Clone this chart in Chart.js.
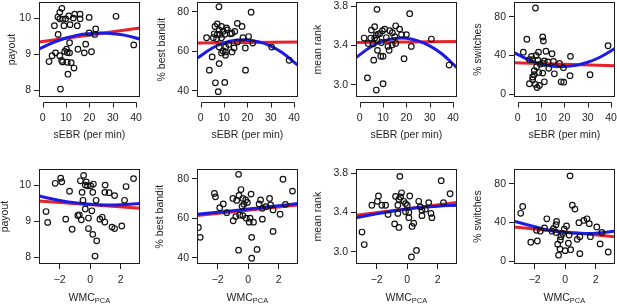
<!DOCTYPE html>
<html>
<head>
<meta charset="utf-8">
<script src="https://cdn.jsdelivr.net/npm/chart.js@4.4.1/dist/chart.umd.min.js"></script>
<style>
  html, body { margin: 0; padding: 0; background: #fff; overflow: hidden; }
  body { width: 617px; height: 305px; position: relative; }
  canvas { position: absolute; }
</style>
</head>
<body>
<script>
// ---- data ----
// top row: sEBR (per min) on x
const ebrX1 = [8.2, 7.3, 6.5, 7.3, 8.5, 9.8, 11.2, 13.7, 16.0, 13.1, 16.0, 19.9, 31.4, 5.0, 9.1, 11.7, 14.8, 6.6, 22.7, 19.9, 22.3, 11.5, 18.4, 39.0, 10.2, 15.1, 9.4, 10.5, 11.5, 20.9, 17.8, 5.5, 4.0, 7.3, 8.1, 8.5, 2.7, 10.5, 12.2, 13.4, 10.8, 7.6];
const payoutY1 = [10.27, 10.16, 10.03, 9.98, 9.97, 9.98, 10.06, 10.11, 10.11, 10.0, 9.98, 10.02, 10.05, 9.79, 9.79, 9.82, 9.79, 9.55, 9.7, 9.59, 9.55, 9.32, 9.28, 9.26, 9.14, 9.14, 9.08, 9.05, 9.04, 9.07, 9.04, 9.04, 8.96, 8.96, 8.83, 8.79, 8.8, 8.78, 8.77, 8.62, 8.45, 8.04];

const ebrX2 = [7.8, 21.6, 2.5, 7.1, 6.1, 8.9, 11.0, 11.4, 7.9, 9.6, 5.8, 7.1, 8.2, 10.3, 12.7, 13.4, 14.6, 15.7, 17.7, 5.4, 6.8, 8.9, 18.1, 20.5, 15.7, 12.0, 7.9, 10.7, 14.3, 19.1, 22.3, 30.4, 9.6, 10.6, 8.9, 13.4, 10.6, 4.9, 7.9, 3.7, 19.2, 37.9, 6.3, 10.3, 7.5];
const banditY2 = [82.5, 79.7, 66.8, 73.8, 72.5, 72.5, 71.8, 70.8, 70.8, 70.1, 68.8, 68.5, 68.5, 68.5, 68.8, 69.1, 70.0, 74.1, 72.5, 66.8, 66.3, 66.8, 66.8, 67.4, 64.6, 63.4, 62.1, 62.1, 61.6, 61.6, 64.1, 62.1, 60.1, 59.6, 59.1, 59.6, 57.9, 57.1, 53.7, 50.4, 50.4, 55.4, 44.0, 44.2, 39.5];

const ebrX3 = [7.4, 21.4, 15.4, 6.4, 17.1, 10.7, 5.0, 9.7, 12.9, 14.0, 8.6, 7.9, 7.1, 20.0, 1.9, 4.7, 6.4, 11.4, 15.0, 17.9, 3.6, 7.4, 5.7, 9.3, 12.1, 13.9, 15.4, 22.1, 30.7, 7.6, 12.6, 9.0, 10.0, 19.0, 6.0, 38.3, 3.3, 10.0, 7.1];
const rankY3 = [3.767, 3.723, 3.6, 3.59, 3.566, 3.566, 3.556, 3.55, 3.55, 3.53, 3.52, 3.515, 3.505, 3.51, 3.475, 3.475, 3.475, 3.48, 3.49, 3.51, 3.42, 3.455, 3.415, 3.43, 3.39, 3.405, 3.42, 3.39, 3.465, 3.35, 3.35, 3.29, 3.29, 3.265, 3.25, 3.2, 3.07, 3.01, 2.946];

const ebrX4 = [7.6, 3.9, 10.7, 11.0, 12.1, 2.4, 8.9, 14.7, 5.9, 7.9, 22.6, 38.7, 5.0, 6.4, 8.6, 11.4, 12.9, 15.3, 9.6, 11.0, 17.9, 8.1, 13.3, 19.6, 7.1, 9.0, 10.7, 7.1, 15.7, 6.4, 22.4, 31.0, 6.4, 11.4, 18.6, 19.7, 5.0, 7.6, 9.3, 8.3];
const switchY4 = [89, 56.7, 59, 55, 44.3, 43.3, 43.3, 41.7, 39, 40, 39, 50, 35.7, 35.7, 35, 34.3, 33.3, 33.7, 31, 31.7, 31.7, 28.3, 26.7, 27.3, 24.3, 22.3, 21.7, 20, 21, 17.7, 19, 20, 15, 12.7, 12.7, 12.3, 10.7, 10, 9, 6.7];

// bottom row: WMC_PCA on x
const wmcX5 = [-0.43, -1.93, -1.86, -2.29, -0.64, -0.26, -0.32, -0.17, 0.04, 0.21, 0.98, 2.84, 2.35, -1.35, -0.53, 0.17, 0.96, 1.24, 1.6, -0.47, 0.39, 2.25, -0.32, 0.11, -2.89, -0.71, -0.81, -2.78, -1.6, -0.58, -0.11, 0.64, 0.79, 0.96, -1.18, -0.11, 1.43, 1.6, 2.07, 0.17, 0.43, 0.32];
const payoutY5 = [10.27, 10.19, 10.09, 10.05, 10.12, 10.09, 10.0, 9.98, 9.98, 10.03, 10.0, 10.18, 9.96, 9.83, 9.8, 9.8, 9.8, 9.79, 9.71, 9.58, 9.58, 9.58, 9.34, 9.29, 9.27, 9.18, 9.16, 8.97, 9.06, 9.04, 9.09, 9.06, 9.11, 8.98, 8.78, 8.8, 8.84, 8.8, 8.87, 8.64, 8.46, 8.04];

const wmcX6 = [-0.63, 2.28, 2.9, -2.21, -2.14, -0.47, -1.63, -1.86, -1.0, 0.19, -0.35, -0.16, -0.05, -0.28, 0.81, 0.72, 1.4, 1.47, 1.16, 1.63, 2.44, 0.93, -1.4, -0.81, -0.98, -0.35, -0.12, 0.12, 0.07, 0.35, 0.93, 2.09, -3.26, -3.14, 0.23, 1.63, -0.63, 0.58, 0.23, -0.6, -0.75, -0.4, -0.55];
const banditY6 = [82.2, 79.7, 73.7, 72.5, 70.8, 74.5, 67.2, 65.3, 70.0, 72.2, 70.0, 69.2, 68.0, 67.0, 69.2, 67.2, 70.0, 66.7, 65.8, 64.2, 67.0, 65.0, 62.8, 60.8, 58.7, 61.3, 60.0, 60.0, 58.0, 58.0, 59.5, 62.0, 55.3, 50.3, 50.3, 53.3, 43.8, 44.2, 39.7, 71.5, 69.0, 66.0, 61.5];

const wmcX7 = [-0.48, 2.23, 2.81, -0.37, -1.88, 0.17, -0.76, -0.43, -0.54, -1.95, -1.66, -1.41, -2.31, -0.22, -0.11, 0.0, 0.76, 1.41, 2.38, -0.61, 0.86, 1.19, 0.97, -1.25, -0.61, -0.11, 0.11, 0.97, 1.56, 1.62, 0.11, -0.82, -0.54, 0.43, 0.32, -2.96, -2.81, 0.61, 0.28];
const rankY7 = [3.767, 3.723, 3.59, 3.6, 3.567, 3.567, 3.563, 3.557, 3.533, 3.513, 3.473, 3.473, 3.473, 3.513, 3.49, 3.473, 3.513, 3.5, 3.5, 3.473, 3.457, 3.433, 3.423, 3.38, 3.39, 3.407, 3.4, 3.367, 3.39, 3.347, 3.347, 3.283, 3.247, 3.29, 3.257, 3.2, 3.073, 3.013, 2.947];

const wmcX8 = [0.32, -2.78, -2.91, 0.47, 0.64, -1.2, 1.43, -0.56, 1.22, 0.9, 1.58, -0.6, 0.09, -1.35, -0.77, 2.07, -0.86, -0.06, -1.88, -1.63, -0.6, -0.17, 2.4, -0.28, 0.26, 0.96, 1.65, 0.79, -2.25, -1.82, -0.32, -0.49, 0.21, 2.29, -0.34, 0.0, 0.36, 0.96, -0.43, 2.82];
const switchY8 = [88.1, 56.5, 49.4, 57.8, 53.8, 43.7, 43.7, 41, 42, 39.7, 38.7, 37.6, 36.3, 34.3, 33.6, 35.3, 30.9, 32.9, 31.9, 30.9, 29.6, 28.6, 29.6, 25.2, 26.9, 25.2, 25.2, 22.5, 19.5, 20.8, 21.8, 17.5, 18.5, 17.8, 12.4, 10.8, 11.8, 7.7, 6.1, 9.4];

// fitted curves, read at a few x positions
const ebrFitX = [-1.6, 5, 10, 15, 20, 25, 30, 35, 41.6];
const ebrLineX = [-1.6, 41.6];
const quadY1 = [9.15, 9.34, 9.45, 9.53, 9.57, 9.59, 9.57, 9.53, 9.42];
const quadY2 = [56.4, 61.6, 64.2, 65.5, 65.7, 64.7, 62.6, 59.2, 52.9];
const quadY3 = [3.277, 3.389, 3.443, 3.471, 3.472, 3.447, 3.396, 3.318, 3.175];
const quadY4 = [43.0, 35.0, 31.0, 28.8, 28.4, 29.7, 32.9, 37.8, 47.0];
const linY1 = [9.34, 9.73];
const linY2 = [64.1, 64.6];
const linY3 = [3.43, 3.44];
const linY4 = [32.3, 29.3];

const wmcFitX = [-3.35, -2, -1, 0, 1, 2, 3.25];
const wmcLineX = [-3.35, 3.25];
const quadY5 = [9.70, 9.575, 9.51, 9.47, 9.45, 9.456, 9.495];
const quadY6 = [62.0, 63.0, 63.8, 64.6, 65.5, 66.3, 67.4];
const quadY7 = [3.345, 3.385, 3.412, 3.435, 3.452, 3.464, 3.473];
const quadY8 = [41.2, 35.6, 31.7, 29.6, 28.7, 28.9, 30.9];
const linY5 = [9.56, 9.36];
const linY6 = [61.3, 66.7];
const linY7 = [3.37, 3.50];
const linY8 = [35.3, 25.2];

// axis ticks and labels
const ebrTicks = [0, 10, 20, 30, 40];
const wmcTicks = [-2, 0, 2];
const payoutTicks = [8, 9, 10];
const banditTicks = [40, 60, 80];
const rankTicks = [3.0, 3.4, 3.8];
const switchTicks = [0, 40, 80];

// ---- layout ----
const INK = '#1e1e1e';
const FONT = 'Liberation Sans, Arial, Helvetica, sans-serif';
const boxLefts = [39, 197, 356, 514];
const rowTops = [1, 168];
const BOX_W = 102, BOX_H = 96;
const ML = 46, MT = 4, MR = 4, MB = 46;
const TICK = 5;

const pairs = (xs, ys) => xs.map((x, i) => ({ x, y: ys[i] }));
const fmt = v => (v < 0 ? '\u2212' + Math.abs(v) : String(v));

// box, detached x axis (top row) and axis titles, R style
const framePlugin = {
  id: 'frame',
  afterDraw(chart, args, o) {
    const { ctx, chartArea: a } = chart;
    ctx.save();
    ctx.strokeStyle = INK;
    ctx.lineWidth = 1;
    ctx.strokeRect(Math.round(a.left) + 0.5, Math.round(a.top) + 0.5, Math.round(a.width) - 1, Math.round(a.height) - 1);

    if (o.axisGap) {
      const xs = chart.scales.x;
      const y0 = Math.round(a.bottom) + o.axisGap + 0.5;
      const px = o.ticks.map(v => Math.round(xs.getPixelForValue(v)) + 0.5);
      ctx.beginPath();
      ctx.moveTo(px[0], y0);
      ctx.lineTo(px[px.length - 1], y0);
      px.forEach(x => { ctx.moveTo(x, y0); ctx.lineTo(x, y0 + TICK); });
      ctx.stroke();
    }

    ctx.fillStyle = INK;
    ctx.font = '10.5px ' + FONT;
    ctx.textBaseline = 'middle';
    // y title
    ctx.save();
    ctx.translate(a.left - o.yOff, (a.top + a.bottom) / 2);
    ctx.rotate(-Math.PI / 2);
    ctx.textAlign = 'center';
    ctx.fillText(o.yTitle, 0, 0);
    ctx.restore();
    // x title, with optional subscript
    const cx = (a.left + a.right) / 2;
    const cy = a.bottom + o.xOff;
    if (o.xSub) {
      const w1 = ctx.measureText(o.xTitle).width;
      ctx.font = '7.5px ' + FONT;
      const w2 = ctx.measureText(o.xSub).width;
      const x0 = cx - (w1 + w2) / 2;
      ctx.textAlign = 'left';
      ctx.fillText(o.xSub, x0 + w1, cy + 3);
      ctx.font = '10.5px ' + FONT;
      ctx.fillText(o.xTitle, x0, cy);
    } else {
      ctx.textAlign = 'center';
      ctx.fillText(o.xTitle, cx, cy);
    }
    ctx.restore();
  }
};

function axis(min, max, ticks, isY, digits, gap) {
  return {
    type: 'linear',
    min, max,
    afterBuildTicks: s => { s.ticks = ticks.map(v => ({ value: v })); },
    afterFit: s => {
      if (isY) { s.width = ML; s.paddingTop = 0; s.paddingBottom = 0; }
      else { s.height = MB; s.paddingLeft = 0; s.paddingRight = 0; }
    },
    ticks: {
      color: INK,
      font: { family: FONT, size: 10.5 },
      padding: isY ? 3 : 5 + gap,
      maxRotation: 0,
      autoSkip: false,
      callback: v => digits ? v.toFixed(digits) : fmt(v)
    },
    grid: {
      drawOnChartArea: false, drawTicks: true, tickLength: TICK,
      color: INK, tickColor: gap ? 'rgba(0,0,0,0)' : INK, lineWidth: 1
    },
    border: { display: false }
  };
}

const panels = [
  { col: 0, row: 0, px: ebrX1, py: payoutY1, fx: ebrFitX, qy: quadY1, lx: ebrLineX, ly: linY1, xr: [-1.6, 41.6], yr: [7.82, 10.44], xt: ebrTicks, yt: payoutTicks, yTitle: 'payout', yOff: 27, xTitle: 'sEBR (per min)' },
  { col: 1, row: 0, px: ebrX2, py: banditY2, fx: ebrFitX, qy: quadY2, lx: ebrLineX, ly: linY2, xr: [-1.6, 41.6], yr: [36.8, 84.8], xt: ebrTicks, yt: banditTicks, yTitle: '% best bandit', yOff: 35, xTitle: 'sEBR (per min)' },
  { col: 2, row: 0, px: ebrX3, py: rankY3, fx: ebrFitX, qy: quadY3, lx: ebrLineX, ly: linY3, xr: [-1.6, 41.6], yr: [2.875, 3.84], xt: ebrTicks, yt: rankTicks, yd: 1, yTitle: 'mean rank', yOff: 38, xTitle: 'sEBR (per min)' },
  { col: 3, row: 0, px: ebrX4, py: switchY4, fx: ebrFitX, qy: quadY4, lx: ebrLineX, ly: linY4, xr: [-1.6, 41.6], yr: [-3, 95], xt: ebrTicks, yt: switchTicks, yTitle: '% switches', yOff: 36, xTitle: 'sEBR (per min)' },
  { col: 0, row: 1, px: wmcX5, py: payoutY5, fx: wmcFitX, qy: quadY5, lx: wmcLineX, ly: linY5, xr: [-3.35, 3.25], yr: [7.82, 10.44], xt: wmcTicks, yt: payoutTicks, yTitle: 'payout', yOff: 34, xTitle: 'WMC', xSub: 'PCA' },
  { col: 1, row: 1, px: wmcX6, py: banditY6, fx: wmcFitX, qy: quadY6, lx: wmcLineX, ly: linY6, xr: [-3.35, 3.25], yr: [36.8, 84.8], xt: wmcTicks, yt: banditTicks, yTitle: '% best bandit', yOff: 37, xTitle: 'WMC', xSub: 'PCA' },
  { col: 2, row: 1, px: wmcX7, py: rankY7, fx: wmcFitX, qy: quadY7, lx: wmcLineX, ly: linY7, xr: [-3.35, 3.25], yr: [2.875, 3.84], xt: wmcTicks, yt: rankTicks, yd: 1, yTitle: 'mean rank', yOff: 38, xTitle: 'WMC', xSub: 'PCA' },
  { col: 3, row: 1, px: wmcX8, py: switchY8, fx: wmcFitX, qy: quadY8, lx: wmcLineX, ly: linY8, xr: [-3.35, 3.25], yr: [-3, 95], xt: wmcTicks, yt: switchTicks, yTitle: '% switches', yOff: 36, xTitle: 'WMC', xSub: 'PCA' }
];

panels.forEach(p => {
  const canvas = document.createElement('canvas');
  const w = ML + BOX_W + MR, h = MT + BOX_H + MB;
  canvas.width = w; canvas.height = h;
  canvas.style.width = w + 'px'; canvas.style.height = h + 'px';
  canvas.style.left = (boxLefts[p.col] - ML) + 'px';
  canvas.style.top = (rowTops[p.row] - MT) + 'px';
  document.body.appendChild(canvas);

  const gap = p.row === 0 ? 5 : 0;

  new Chart(canvas, {
    type: 'scatter',
    data: {
      datasets: [
        {
          label: 'subjects',
          data: pairs(p.px, p.py),
          pointStyle: 'circle',
          pointRadius: 2.8,
          pointBorderWidth: 1.2,
          pointBorderColor: '#111',
          pointBackgroundColor: 'rgba(0,0,0,0)'
        },
        {
          label: 'quadratic',
          data: pairs(p.fx, p.qy),
          showLine: true,
          borderColor: '#1b1be6',
          borderWidth: 3,
          pointRadius: 0,
          tension: 0.4,
          clip: 0
        },
        {
          label: 'linear',
          data: pairs(p.lx, p.ly),
          showLine: true,
          borderColor: '#e8222a',
          borderWidth: 3,
          pointRadius: 0,
          clip: 0
        }
      ]
    },
    options: {
      responsive: false,
      animation: false,
      devicePixelRatio: 1,
      layout: { padding: { left: 0, top: MT, right: MR, bottom: 0 } },
      plugins: {
        legend: { display: false },
        tooltip: { enabled: false },
        frame: {
          yTitle: p.yTitle, yOff: p.yOff, xTitle: p.xTitle, xSub: p.xSub,
          xOff: p.row === 0 ? 38 : 34, axisGap: gap, ticks: p.xt
        }
      },
      scales: {
        x: axis(p.xr[0], p.xr[1], p.xt, false, 0, gap),
        y: axis(p.yr[0], p.yr[1], p.yt, true, p.yd || 0, 0)
      }
    },
    plugins: [framePlugin]
  });
});
</script>
</body>
</html>
